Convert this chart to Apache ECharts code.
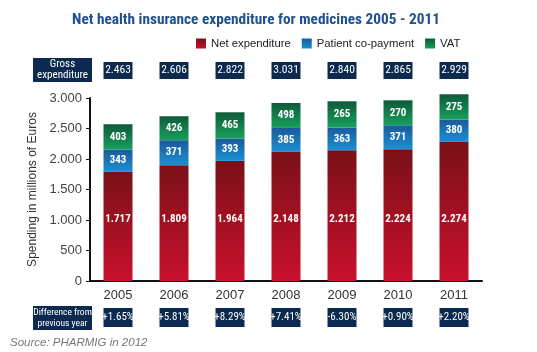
<!DOCTYPE html>
<html><head><meta charset="utf-8">
<script src="https://cdn.jsdelivr.net/npm/echarts@6/dist/echarts.min.js"></script>
<style>html,body{margin:0;padding:0;background:#fff}#c{width:537px;height:352px}</style>
</head><body><div id="c"></div>
<script>
const years = ['2005','2006','2007','2008','2009','2010','2011'];
// printed segment values (labels)
const netExpenditure = [1717,1809,1964,2148,2212,2224,2274];
const patientCopayment = [343,371,393,385,363,371,380];
const vat = [403,426,465,498,265,270,275];
// segment heights as drawn in the picture
const netDrawn = [1789,1899,1969,2116,2144,2160,2280];
const copayDrawn = [366,409,367,393,372,393,367];
const vatDrawn = [415,393,430,409,430,409,414];
const grossExpenditure = ['2.463','2.606','2.822','3.031','2.840','2.865','2.929'];
const differencePrev = ['+1.65%','+5.81%','+8.29%','+7.41%','-6.30%','+0.90%','+2.20%'];
const yTicks = [0,500,1000,1500,2000,2500,3000];

const NARROW = "'Liberation Sans Narrow','Arial Narrow','Roboto Condensed',sans-serif";
const SANS = "'Liberation Sans',Arial,sans-serif";
const fmt = v => { const s = String(Math.round(v)); return s.length > 3 ? s.slice(0, s.length-3) + '.' + s.slice(-3) : s; };
const grad = (a,b) => new echarts.graphic.LinearGradient(0,0,0,1,[{offset:0,color:a},{offset:1,color:b}]);
const navy = '#0c2a50';

const chart = echarts.init(document.getElementById('c'), null, {renderer:'canvas'});
const mkLabel = (arr, extra) => Object.assign({show:true, position:'inside', color:'#fff', fontFamily:NARROW, fontWeight:'bold', fontSize:11,
  formatter: p => fmt(arr[p.dataIndex])}, extra || {});
chart.setOption({
  animation:false,
  title:{text:'Net health insurance expenditure for medicines 2005 - 2011', left:251, textAlign:'center', top:8,
    textStyle:{fontFamily:NARROW, fontWeight:'bold', fontSize:15.3, color:'#1f4f8f'}},
  legend:{left:196, top:38, padding:0, itemWidth:10, itemHeight:10, itemGap:11, icon:'rect',
    textStyle:{fontFamily:SANS, fontSize:11.3, color:'#222'},
    data:['Net expenditure','Patient co-payment','VAT']},
  grid:{left:90, width:392, top:98, bottom:71},
  xAxis:[
    {type:'category', data:years, position:'bottom',
      axisLine:{lineStyle:{color:'#111', width:2}}, axisTick:{show:false},
      axisLabel:{color:'#333', fontSize:13, margin:8, fontFamily:SANS}},
    {type:'category', data:grossExpenditure, position:'top',
      axisLine:{show:false}, axisTick:{show:false},
      axisLabel:{color:'#fff', backgroundColor:navy, fontFamily:NARROW, fontSize:11.5, width:29, align:'center',
        lineHeight:13, padding:[2,0,2,0], margin:19, overflow:'none'}},
    {type:'category', data:differencePrev, position:'bottom', offset:0,
      axisLine:{show:false}, axisTick:{show:false},
      axisLabel:{color:'#fff', backgroundColor:navy, fontFamily:NARROW, fontSize:11, width:29, align:'center',
        lineHeight:15, padding:[2,0,2,0], margin:27, overflow:'none'}}
  ],
  yAxis:{type:'value', min:yTicks[0], max:yTicks[yTicks.length-1], interval:500,
    name:'Spending in millions of Euros', nameLocation:'middle', nameGap:31,
    nameTextStyle:{fontSize:12, color:'#333', fontFamily:SANS},
    axisLine:{show:true, lineStyle:{color:'#111', width:2}},
    axisTick:{show:true, length:4, lineStyle:{color:'#111'}},
    splitLine:{show:false},
    axisLabel:{color:'#444', fontSize:13, margin:8, formatter:fmt, fontFamily:SANS}},
  series:[
    {name:'Net expenditure', type:'bar', stack:'s', barWidth:29, clip:false, data:netDrawn,
      itemStyle:{color:grad('#7a1116','#c8102e')},
      label:mkLabel(netExpenditure, {position:'insideBottom', distance:56})},
    {name:'Patient co-payment', type:'bar', stack:'s', barWidth:29, clip:false, data:copayDrawn,
      itemStyle:{color:grad('#1b5a9a','#1b90d2')}, label:mkLabel(patientCopayment)},
    {name:'VAT', type:'bar', stack:'s', barWidth:29, clip:false, data:vatDrawn,
      itemStyle:{color:grad('#0e5a3a','#17a05c')}, label:mkLabel(vat)}
  ],
  graphic:[
    {type:'rect', shape:{x:33,y:58,width:59,height:24}, style:{fill:navy}},
    {type:'text', x:62.5, y:70, style:{text:'Gross\nexpenditure', fill:'#fff', font:"11px "+NARROW, align:'center', verticalAlign:'middle', lineHeight:11}},
    {type:'rect', shape:{x:33,y:306,width:59,height:24}, style:{fill:navy}},
    {type:'text', x:62.5, y:318, style:{text:'Difference from\nprevious year', fill:'#fff', font:"9.5px "+NARROW, align:'center', verticalAlign:'middle', lineHeight:11}},
    {type:'text', x:10, y:343, style:{text:'Source: PHARMIG in 2012', fill:'#777', font:"italic 11.5px "+SANS, verticalAlign:'middle'}}
  ]
});
</script></body></html>
